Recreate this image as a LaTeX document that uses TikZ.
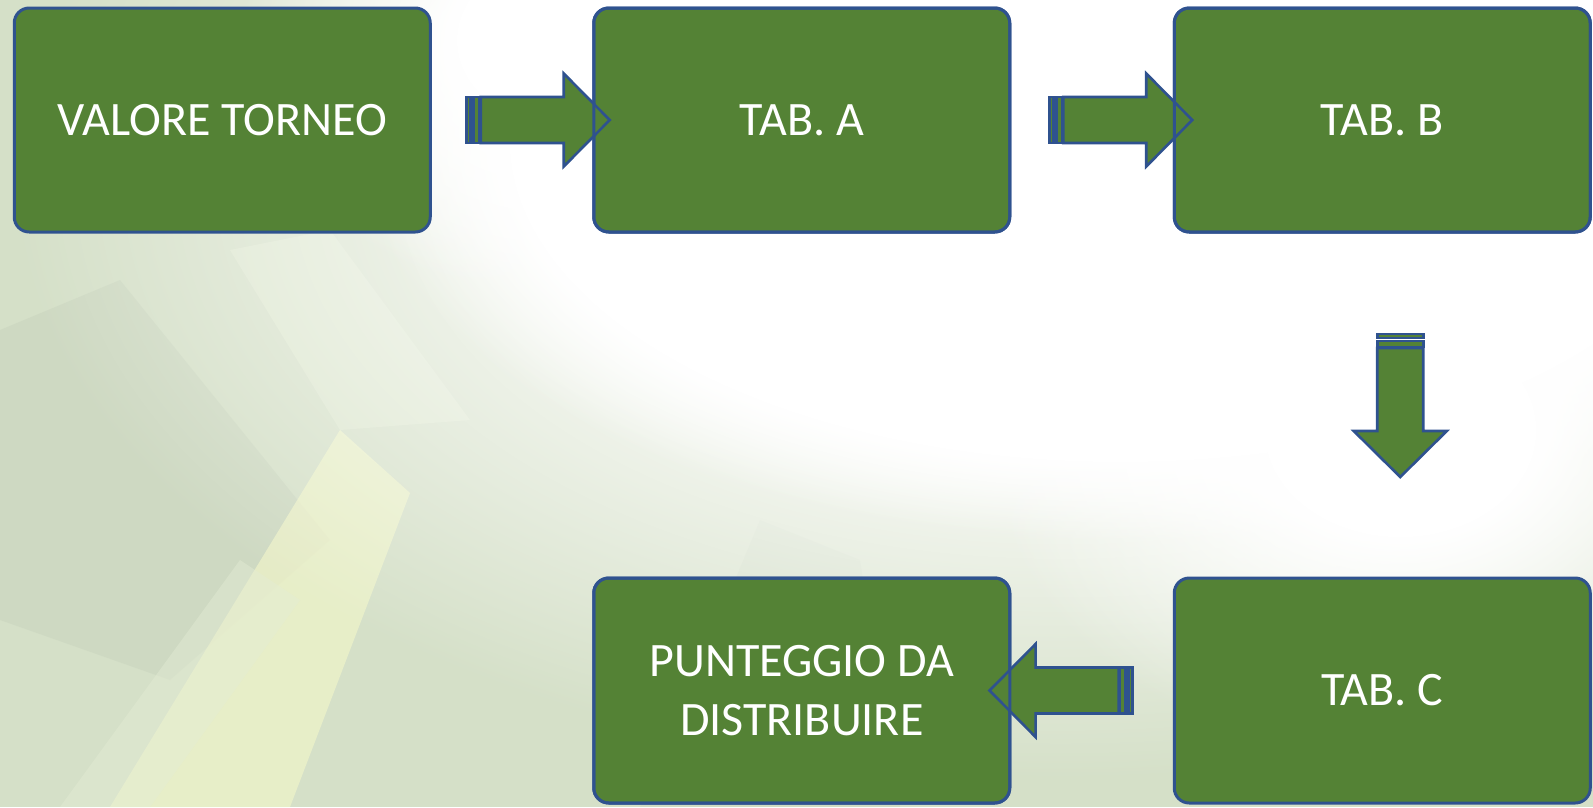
\documentclass[tikz,border=0pt]{standalone}
\usepackage{fontspec}
\setmainfont{Carlito}
\usetikzlibrary{fadings,calc}
\pgfdeclareradialshading{softblobshade}{\pgfpointorigin}{color(0bp)=(pgftransparent!0); color(8bp)=(pgftransparent!0); color(25bp)=(pgftransparent!100); color(50bp)=(pgftransparent!100)}
\pgfdeclarefading{softblob}{\pgfuseshading{softblobshade}}
\definecolor{boxgreen}{RGB}{84,130,53}
\definecolor{boxblue}{RGB}{47,82,143}
\definecolor{bgA}{RGB}{213,224,200}
\definecolor{bgB}{RGB}{198,210,188}
\definecolor{bgY}{RGB}{240,244,200}
\definecolor{bgL}{RGB}{228,236,212}
\tikzset{
  flowbox/.style={draw=boxblue, line width=3pt, fill=boxgreen, rounded corners=15pt,
    minimum width=416pt, minimum height=224pt, inner sep=0pt, outer sep=0pt,
    text=white, align=center, font=\fontsize{48}{59}\selectfont},
  arrowpart/.style={draw=boxblue, line width=2.6pt, fill=boxgreen, line join=miter},
  stripedarrow/.pic={
    \path[arrowpart] (14,-23) -- (97,-23) -- (97,-46.5) -- (143,0) -- (97,46.5) -- (97,23) -- (14,23) -- cycle;
    \path[arrowpart] (0,-23) rectangle (4,23);
    \path[arrowpart] (7,-23) rectangle (13,23);
  }
}
\begin{document}
\begin{tikzpicture}[x=1pt,y=-1pt]
\useasboundingbox (0,0) rectangle (1593,807);
% background
\fill[bgA] (0,0) rectangle (1593,807);
\fill[bgB, opacity=.45] (0,330) -- (120,280) -- (330,540) -- (170,680) -- (0,620) -- cycle;
\fill[bgL, opacity=.5] (230,250) -- (330,230) -- (470,420) -- (340,430) -- cycle;
\fill[bgY, opacity=.7] (340,430) -- (410,493) -- (290,807) -- (110,807) -- cycle;
\fill[bgL, opacity=.45] (60,807) -- (240,560) -- (300,600) -- (150,807) -- cycle;
\fill[bgB, opacity=.35] (640,807) -- (760,520) -- (860,560) -- (900,807) -- cycle;
\fill[white, path fading=softblob] (1060,180) ellipse [x radius=1050, y radius=600];
\fill[white, path fading=circle with fuzzy edge 20 percent] (1120,140) ellipse [x radius=760, y radius=400];
\fill[white, path fading=softblob] (1400,430) ellipse [x radius=420, y radius=330];
\fill[white, path fading=softblob] (560,40) ellipse [x radius=320, y radius=260];
% boxes
\node[flowbox] (b1) at (222.25,120) {VALORE TORNEO};
\node[flowbox] (b2) at (801.75,120) {TAB. A};
\node[flowbox] (b3) at (1382.25,120) {TAB. B};
\node[flowbox, minimum height=225pt] (b4) at (1382.25,690.5) {TAB. C};
\node[flowbox, minimum height=225pt] (b5) at (801.75,690.5) {PUNTEGGIO DA\\DISTRIBUIRE};
% arrows
\pic at ($(b1.east)+(36.5,0)$) {stripedarrow};
\pic at ($(b2.east)+(39.5,0)$) {stripedarrow};
\pic[rotate=-90] at ($(b3.south)+(18,102)$) {stripedarrow};
\pic[rotate=180] at ($(b4.west)+(-41.7,0)$) {stripedarrow};
% box borders over arrow tips
\foreach \b in {b2,b3,b5}
  \draw[boxblue, line width=3pt, rounded corners=15pt] (\b.north west) rectangle (\b.south east);
\end{tikzpicture}
\end{document}
